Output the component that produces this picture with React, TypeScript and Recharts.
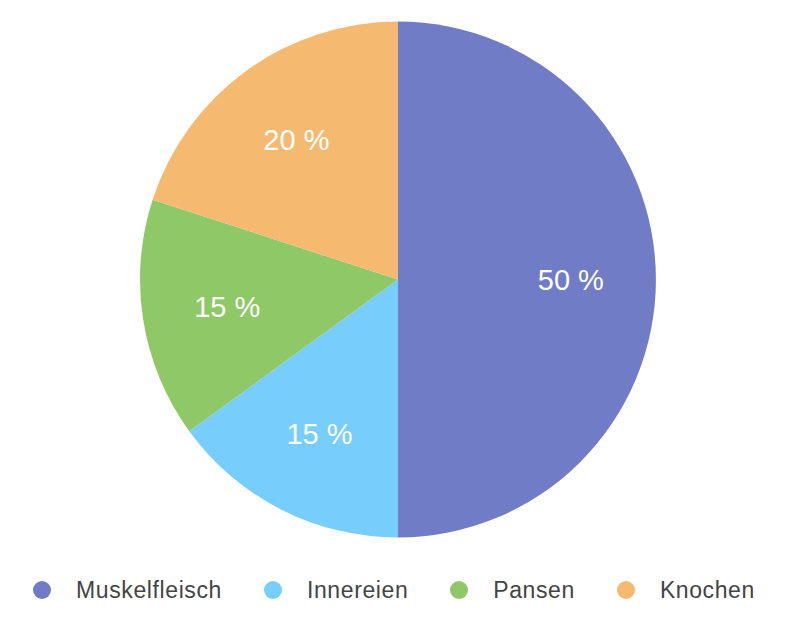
import { Legend, Pie, PieChart, Cell } from 'recharts';

const categories = ['Muskelfleisch', 'Innereien', 'Pansen', 'Knochen'];
const shares = [50, 15, 15, 20];
const colors = ['#717cc7', '#77cdfb', '#8fc866', '#f5b970'];

const data = categories.map((name, i) => ({ name, value: shares[i] }));

const RAD = Math.PI / 180;

function renderLabel(props: any) {
  const { cx, cy, midAngle, outerRadius, value } = props;
  const r = outerRadius * 0.67;
  const x = cx + r * Math.cos(-midAngle * RAD);
  const y = cy + r * Math.sin(-midAngle * RAD);
  return (
    <text
      x={x}
      y={y}
      fill="#ffffff"
      textAnchor="middle"
      dominantBaseline="central"
      fontSize={29}
      fontFamily="'Liberation Sans', Arial, sans-serif"
    >
      {value} %
    </text>
  );
}

function LegendContent(props: any) {
  const { payload } = props;
  return (
    <div
      style={{
        display: 'flex',
        justifyContent: 'center',
        gap: 42,
        fontFamily: "'Liberation Sans', Arial, sans-serif",
        fontSize: 23,
        color: '#444444',
        lineHeight: '28px',
      }}
    >
      {payload.map((entry: any) => (
        <div key={entry.value} style={{ display: 'flex', alignItems: 'center' }}>
          <span
            style={{
              width: 18,
              height: 18,
              minWidth: 18,
              flexShrink: 0,
              borderRadius: '50%',
              background: entry.color,
              display: 'inline-block',
              marginRight: 25,
            }}
          />
          <span style={{ letterSpacing: 0.6 }}>{entry.value}</span>
        </div>
      ))}
    </div>
  );
}

export default function App() {
  return (
    <div style={{ width: 772, height: 612, background: '#ffffff' }}>
      <PieChart width={772} height={612} margin={{ top: 0, right: 0, bottom: 0, left: 0 }}>
        <Pie
          data={data}
          dataKey="value"
          nameKey="name"
          cx={390}
          cy={271.5}
          outerRadius={258}
          startAngle={90}
          endAngle={-270}
          stroke="none"
          label={renderLabel}
          labelLine={false}
          isAnimationActive={false}
        >
          {data.map((d, i) => (
            <Cell key={d.name} fill={colors[i]} />
          ))}
        </Pie>
        <Legend
          verticalAlign="bottom"
          itemSorter={null}
          content={<LegendContent />}
          wrapperStyle={{ bottom: 16 }}
        />
      </PieChart>
    </div>
  );
}
